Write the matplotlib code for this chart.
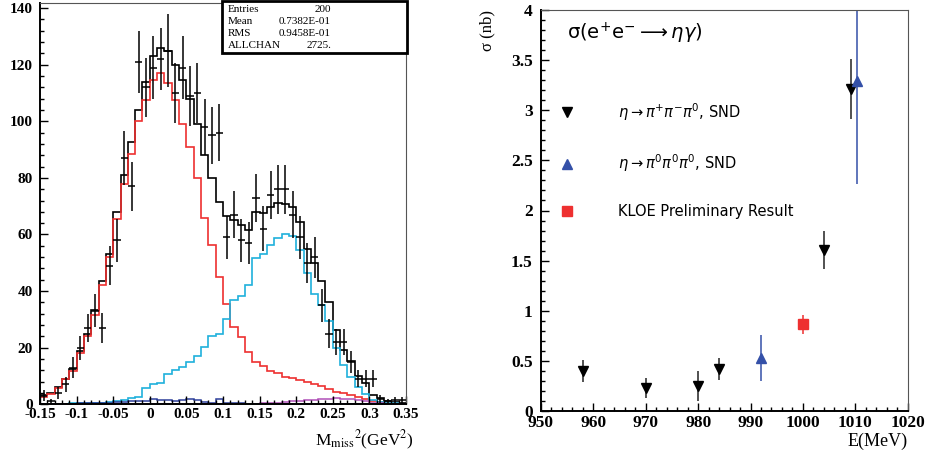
import matplotlib
matplotlib.use('Agg')
import matplotlib.pyplot as plt
from matplotlib.ticker import MultipleLocator, FuncFormatter
from matplotlib.patches import Rectangle
from matplotlib.font_manager import FontProperties
import numpy as np

# ---------------- left panel: missing mass histogram ----------------
edges = np.linspace(-0.15, 0.35, 51)

h_total = [3.3, 4, 6, 9, 12.4, 18.7, 24.8, 33.4, 43.4, 53,
           68, 81, 92.7, 104, 114, 123, 126, 125, 120, 114.5,
           108, 99, 88, 80, 71.5, 66.5, 65, 63.3, 61.6, 67.8,
           67.5, 69.8, 71, 70.8, 69.8, 64.5, 55, 50, 43.7, 36.3,
           26.3, 19.2, 15.4, 10, 7.4, 3.3, 2.1, 1.3, 0.8, 0.5]
h_signal = [2.7, 3.8, 5.9, 8.9, 11.6, 18.3, 24.2, 31.6, 42, 52,
            65.6, 78, 88.6, 100, 107.4, 114.5, 117, 113.5, 107.4, 99,
            91, 80, 66, 56.4, 45, 35.5, 27.3, 23.7, 18.4, 14.8,
            13.6, 11.6, 11, 9.8, 9.3, 8.6, 7.8, 7.2, 6.3, 5.4,
            4.5, 3.9, 3.3, 2.7, 1.8, 1.3, 0.8, 0.6, 0.3, 0.2]
h_bkg = [0.1, 0.1, 0.2, 0.2, 0.3, 0.3, 0.4, 0.5, 0.6, 0.8,
         1.0, 1.5, 2.4, 2.7, 5.7, 7.0, 7.4, 10.6, 12.0, 13.3,
         15.1, 17.1, 20.4, 24.2, 25.0, 30.0, 37.0, 38.4, 42.3, 51.7,
         53.0, 56.4, 58.8, 60.3, 59.6, 54.5, 46.3, 39.0, 35.0, 29.3,
         19.8, 14.0, 9.8, 6.0, 3.7, 1.5, 0.9, 0.5, 0.3, 0.2]
h_blue = [0.2, 0.2, 0.2, 0.2, 0.2, 0.4, 0.4, 0.5, 0.5, 0.6,
          0.7, 0.8, 1.0, 1.0, 1.2, 1.8, 1.6, 1.4, 1.0, 1.6,
          2.0, 1.6, 0.8, 0.4, 1.7, 0.6, 0.4, 0.3, 0.2, 0.2,
          0.2, 0.2, 0.2, 0.2, 0.2, 0.2, 0.2, 0.2, 0.2, 0.2,
          0.2, 0.2, 0.2, 0.2, 0.2, 0.2, 0.2, 0.2, 0.2, 0.2]
h_purple = [0.1] * 30 + [0.3, 0.5, 0.6, 0.8, 1.0, 1.2, 1.4, 1.6, 1.8, 2.0,
                         2.1, 2.0, 1.8, 1.5, 1.0, 0.6, 0.3, 0.1, 0.1, 0.1]

data_vals = [3, 1, 4, 7, 13, 20, 27, 33, 27, 49,
             58, 87, 77, 121, 112, 119, 122, 125, 110, 119,
             109, 110, 98, 95, 96, 59, 67, 58, 57, 73,
             62, 74, 76, 76, 67, 59, 50, 52, 35, 25,
             22, 22, 15, 9, 9, 9, 2, 1, 1.5, 1.5]
data_errs = [2, 1, 2, 2.6, 3.7, 4.3, 5, 5.8, 5.3, 7,
             7.6, 9.4, 8.6, 11, 10.5, 11, 11, 13, 10.5, 11,
             10.5, 10.5, 10, 10, 10, 7.6, 8.2, 7.6, 7.5, 8.5,
             7.9, 8.6, 8.7, 8.7, 8.2, 7.7, 7, 7.2, 5.9, 5,
             4.7, 4.7, 3.9, 3, 3, 3, 1.4, 1, 1.2, 1.2]

stat_names = ['Entries', 'Mean', 'RMS', 'ALLCHAN']
stat_values = ['200', '0.7382E-01', '0.9458E-01', '2725.']

# ---------------- right panel: cross section ----------------
e_3pi = [958, 970, 980, 984, 1004, 1009.2]
s_3pi = [0.40, 0.23, 0.25, 0.42, 1.61, 3.21]
err_3pi = [0.11, 0.10, 0.15, 0.11, 0.19, 0.30]

e_3pi0 = [992, 1010.3]
s_3pi0 = [0.53, 3.29]
err_3pi0 = [0.23, 1.03]

e_kloe = [1000]
s_kloe = [0.865]
err_kloe = [0.095]

lab_3pi = r'$\eta\rightarrow\pi^{+}\pi^{-}\pi^{0}$, SND'
lab_3pi0 = r'$\eta\rightarrow\pi^{0}\pi^{0}\pi^{0}$, SND'
lab_kloe = 'KLOE Preliminary Result'

serif = 'Liberation Serif'
c_red = '#ee3030'
c_cyan = '#1fb0dc'
c_blue = '#2c3f9a'
c_purple = '#b050b8'
c_tri = '#3450a8'

fig = plt.figure(figsize=(9.28, 4.55), dpi=100)
ax = fig.add_axes([40/928, 50.7/455, 366/928, 401.3/455])
ax2 = fig.add_axes([541/928, 44/455, 366.7/928, 401/455])

def root_style(a, lsize):
    for s in ['left', 'bottom']:
        a.spines[s].set_linewidth(1.4)
        a.spines[s].set_color('black')
    for s in ['top', 'right']:
        a.spines[s].set_linewidth(0.8)
        a.spines[s].set_color('#555555')
    a.tick_params(which='both', direction='in', top=False, right=False, width=1.0)
    a.tick_params(which='major', length=6)
    a.tick_params(which='minor', length=3)
    for lab in a.get_xticklabels() + a.get_yticklabels():
        lab.set_fontfamily(serif)
        lab.set_fontweight('bold')
        lab.set_fontsize(lsize)

# left panel
ax.stairs(h_total, edges, color='black', lw=1.2)
ax.stairs(h_signal, edges, color=c_red, lw=1.2)
ax.stairs(h_bkg, edges, color=c_cyan, lw=1.2)
ax.stairs(h_purple, edges, color=c_purple, lw=1.1)
ax.stairs(h_blue, edges, color=c_blue, lw=1.1)
centers = 0.5 * (edges[1:] + edges[:-1])
half = 0.5 * np.diff(edges)
ax.errorbar(centers, data_vals, xerr=half, yerr=data_errs, fmt='none',
            ecolor='black', elinewidth=1.1, capsize=0)

ax.set_xlim(-0.15, 0.35)
ax.set_ylim(0, 141.8)
ax.xaxis.set_major_locator(MultipleLocator(0.05))
ax.xaxis.set_minor_locator(MultipleLocator(0.01))
ax.yaxis.set_major_locator(MultipleLocator(20))
ax.yaxis.set_minor_locator(MultipleLocator(4))
ax.xaxis.set_major_formatter(FuncFormatter(lambda v, p: '%g' % round(v, 3)))
ax.tick_params(axis='x', pad=2.5)
ax.tick_params(axis='y', pad=5)
root_style(ax, 11)

ax.text(1.02, -0.06, r'M$_{\rm miss}$$^{2}$(GeV$^{2}$)', transform=ax.transAxes,
        ha='right', va='top', fontsize=12.5, family=serif, math_fontfamily='stix')

ax.add_patch(Rectangle((0.497, 0.876), 0.507, 0.128, transform=ax.transAxes,
                       facecolor='white', edgecolor='black', lw=2, clip_on=False, zorder=5))
ys = [0.9826, 0.9527, 0.9228, 0.8929]
for nm, val, yy in zip(stat_names, stat_values, ys):
    ax.text(0.512, yy, nm, transform=ax.transAxes, ha='left', va='center',
            fontsize=8, family=serif, zorder=6)
    ax.text(0.795, yy, val, transform=ax.transAxes, ha='right', va='center',
            fontsize=8, family=serif, zorder=6)

# right panel
ax2.errorbar(e_3pi, s_3pi, yerr=err_3pi, fmt='v', color='black', ms=7.5,
             ecolor='#222222', elinewidth=1.1, capsize=0, label=lab_3pi)
ax2.errorbar(e_3pi0, s_3pi0, yerr=err_3pi0, fmt='^', color=c_tri, ms=7.5,
             ecolor=c_tri, elinewidth=1.1, capsize=0, label=lab_3pi0)
ax2.errorbar(e_kloe, s_kloe, yerr=err_kloe, fmt='s', color=c_red, ms=7,
             ecolor=c_red, elinewidth=1.1, capsize=0, label=lab_kloe)

ax2.set_xlim(950, 1020)
ax2.set_ylim(0, 4)
ax2.xaxis.set_major_locator(MultipleLocator(10))
ax2.xaxis.set_minor_locator(MultipleLocator(2))
ax2.yaxis.set_major_locator(MultipleLocator(0.5))
ax2.yaxis.set_minor_locator(MultipleLocator(0.1))
ax2.yaxis.set_major_formatter(FuncFormatter(lambda v, p: '%g' % v))
ax2.tick_params(axis='x', pad=3)
ax2.tick_params(axis='y', pad=6)
root_style(ax2, 12.5)

ax2.text(1.0, -0.055, 'E(MeV)', transform=ax2.transAxes, ha='right', va='top',
         fontsize=13, family=serif)
ax2.text(-0.145, 1.0, 'σ (nb)', transform=ax2.transAxes, ha='center', va='top',
         rotation=90, fontsize=12, family=serif)
ax2.text(0.0714, 0.9425, r'σ(e$^{+}$e$^{-}$$\longrightarrow\eta\gamma$)',
         transform=ax2.transAxes, ha='left', va='center', fontsize=14,
         family='DejaVu Sans')

handles, labels = ax2.get_legend_handles_labels()
handles = [h[0] for h in handles]
leg = ax2.legend(handles, labels, loc='center left', bbox_to_anchor=(0.051, 0.626),
                 frameon=False, borderpad=0, borderaxespad=0, handlelength=1.0,
                 handletextpad=3.0, labelspacing=2.05,
                 prop=FontProperties(family='DejaVu Sans', size=10.5))

fig.savefig('out.png', dpi=100)
